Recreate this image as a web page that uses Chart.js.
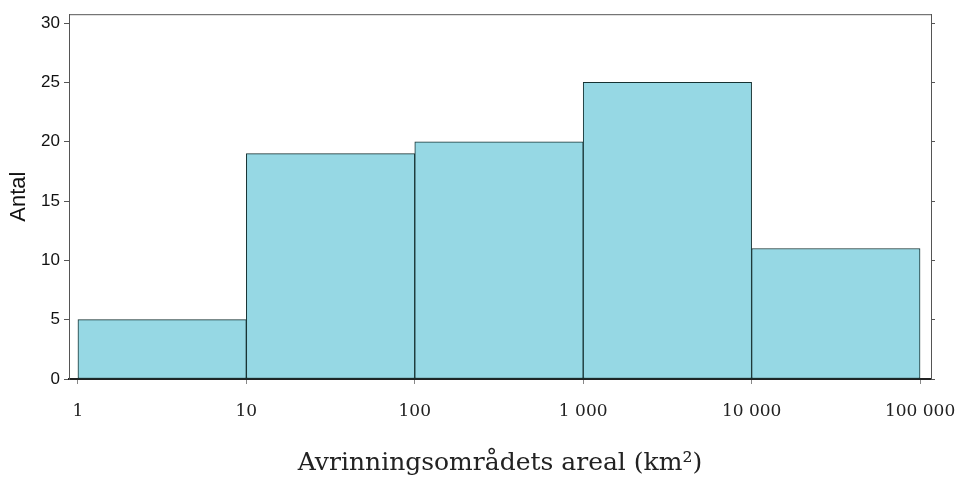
<!DOCTYPE html>
<html>
<head>
<meta charset="utf-8">
<script src="https://cdn.jsdelivr.net/npm/chart.js"></script>
<style>
  body { margin: 0; background: #fff; }
</style>
</head>
<body>
<canvas id="myChart" width="964" height="485"></canvas>
<script>
// bin edges (km2) and counts per bin
const binEdges = [1, 10, 100, 1000, 10000, 100000];
const counts = [5, 19, 20, 25, 11];
const xTickLabels = ['1', '10', '100', '1 000', '10 000', '100 000'];
const yTicks = [0, 5, 10, 15, 20, 25, 30];

// bar sits in the middle of each bin (geometric middle on log axis)
const barData = counts.map((c, i) => ({ x: Math.sqrt(binEdges[i] * binEdges[i + 1]), y: c }));

// top edge of the plot frame
const frameTop = {
  id: 'frameTop',
  afterDraw(chart) {
    const a = chart.chartArea, ctx = chart.ctx;
    ctx.save();
    ctx.strokeStyle = '#555';
    ctx.lineWidth = 1;
    ctx.beginPath();
    ctx.moveTo(a.left, a.top + 0.5);
    ctx.lineTo(a.right, a.top + 0.5);
    ctx.stroke();
    ctx.restore();
  }
};

const ctx = document.getElementById('myChart');
new Chart(ctx, {
  type: 'bar',
  data: {
    datasets: [{
      data: barData,
      backgroundColor: 'rgb(150, 216, 228)',
      borderColor: '#163232',
      borderWidth: 1,
      borderSkipped: false,
      barPercentage: 1,
      categoryPercentage: 1
    }]
  },
  options: {
    responsive: false,
    animation: false,
    layout: { padding: { top: 10, left: 0, right: 0, bottom: 0 } },
    plugins: { legend: { display: false }, tooltip: { enabled: false } },
    scales: {
      x: {
        type: 'logarithmic',
        position: 'bottom',
        min: Math.pow(10, -0.053),
        max: Math.pow(10, 5.065),
        offset: false,
        afterBuildTicks: s => { s.ticks = binEdges.map(v => ({ value: v })); },
        afterFit: s => { s.height = 106; s.paddingLeft = 0; s.paddingRight = 0; },
        ticks: {
          autoSkip: false,
          maxRotation: 0,
          padding: 17,
          color: '#222',
          font: { family: '"DejaVu Serif", "Liberation Serif", serif', size: 17 },
          callback: (v, i) => xTickLabels[i]
        },
        grid: { offset: false, drawOnChartArea: false, tickLength: 5, color: '#888' },
        border: { color: '#222', width: 2 },
        title: {
          display: true,
          text: 'Avrinningsområdets areal (km²)',
          color: '#222',
          font: { family: '"DejaVu Serif", "Liberation Serif", serif', size: 25, weight: 'normal' },
          padding: { top: 0, bottom: 7 }
        }
      },
      y: {
        position: 'left',
        min: 0,
        max: 30.75,
        afterBuildTicks: s => { s.ticks = yTicks.map(v => ({ value: v })); },
        afterFit: s => { s.width = 69; },
        ticks: {
          padding: 4,
          color: '#111',
          font: { family: '"Liberation Sans", Arial, sans-serif', size: 17 }
        },
        grid: { drawOnChartArea: false, tickLength: 5, color: '#555' },
        border: { color: '#555', width: 1 },
        title: {
          display: true,
          text: 'Antal',
          color: '#111',
          font: { family: '"Liberation Sans", Arial, sans-serif', size: 22 },
          padding: { top: 6, bottom: 0 }
        }
      },
      y2: {
        position: 'right',
        min: 0,
        max: 30.75,
        afterBuildTicks: s => { s.ticks = yTicks.map(v => ({ value: v })); },
        afterFit: s => { s.width = 33; },
        ticks: { callback: () => '' },
        grid: { drawOnChartArea: false, tickLength: 4, color: '#555' },
        border: { color: '#555', width: 1 }
      }
    }
  },
  plugins: [frameTop]
});
</script>
</body>
</html>
